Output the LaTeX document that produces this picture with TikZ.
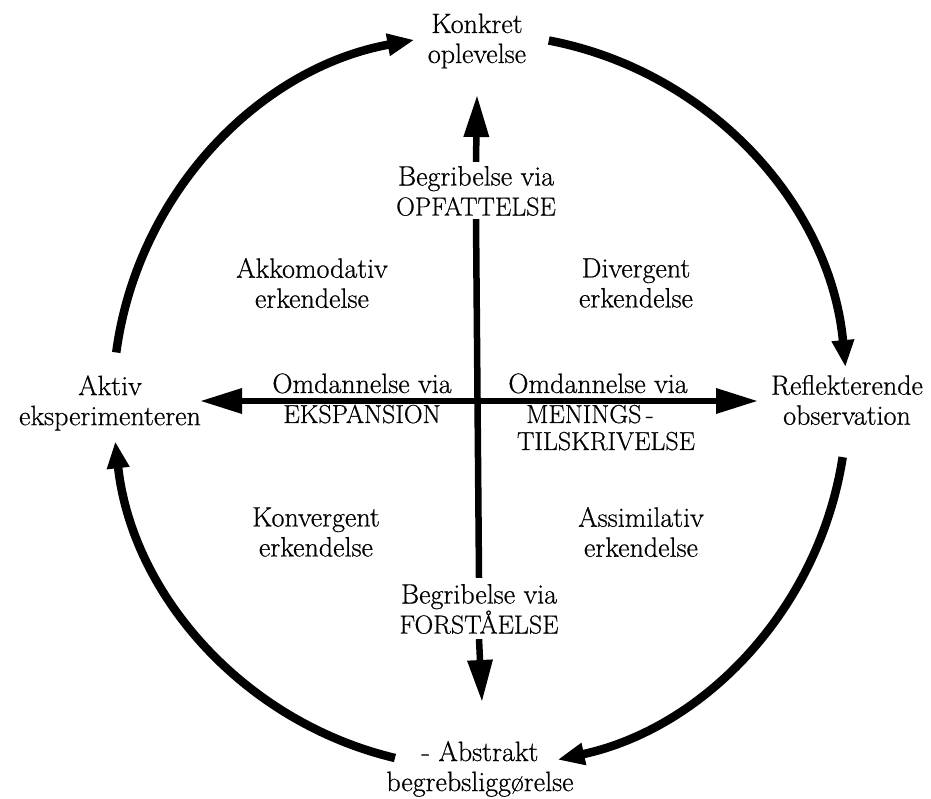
\documentclass[tikz,border=0pt]{standalone}
\usepackage{fontspec}
\setmainfont{Latin Modern Roman}[FakeBold=0.6]
\usetikzlibrary{arrows.meta,calc}
\begin{document}
\begin{tikzpicture}[x=1pt,y=1pt,
  lbl/.style={align=center, font=\fontsize{28}{30}\selectfont, inner sep=0pt},
  ring/.style={line width=8.5pt, -{Triangle[length=27pt,width=21pt]}},
  axis/.style={line width=6.5pt},
  bigtip/.style={-{Triangle[length=42pt,width=24pt]}},
  bigtips/.style={{Triangle[length=42pt,width=24pt]}-{Triangle[length=42pt,width=24pt]}}
]
\newcommand{\capsz}{\fontsize{26}{30}\selectfont}
\useasboundingbox (0,0) rectangle (931,798);
\fill[white] (0,0) rectangle (931,798);

% stage nodes
\node[lbl] (konkret) at (477,757) {Konkret\\oplevelse};
\node[lbl] (aktiv) at (110,395) {Aktiv\\eksperimenteren};
\node[lbl] (refl) at (847,398) {Reflekterende\\observation};
\node[lbl] (abstr) at (480,29) {- Abstrakt\\begrebsliggørelse};

% quadrant labels
\node[lbl] (akk) at (312,515) {Akkomodativ\\erkendelse};
\node[lbl] (div) at (636,515) {Divergent\\erkendelse};
\node[lbl] (konv) at (316,266) {Konvergent\\erkendelse};
\node[lbl] (assim) at (641,266) {Assimilativ\\erkendelse};

% axis labels
\node[lbl] (opf) at (476,607) {Begribelse via\\{\capsz OPFATTELSE}};
\node[lbl] (fors) at (479,189) {Begribelse via\\{\capsz FORSTÅELSE}};
\node[lbl, anchor=base] (omL) at (362,405) {Omdannelse via};
\node[lbl, anchor=base, font=\capsz] (eks) at (362,375) {EKSPANSION};
\node[lbl, anchor=base] (omR) at (598,405) {Omdannelse via};
\node[lbl, anchor=base, font=\capsz] (men) at (590,375) {MENINGS\,-};
\node[lbl, anchor=base, font=\capsz] (tils) at (606,348) {TILSKRIVELSE};

% cross
\coordinate (ttip) at (477,703);
\coordinate (btip) at (482,96);
\coordinate (ltip) at (200,397);
\coordinate (rtip) at (758,397);
\draw[axis,bigtip] ([yshift=4pt]opf.north) -- (ttip);
\draw[axis] ([yshift=-3pt]opf.south) -- ([yshift=6pt]fors.north);
\draw[axis,bigtip] ([yshift=-5pt]fors.south) -- (btip);
\draw[axis,bigtips] (ltip) -- (rtip);

% ring
\coordinate (C) at (480,397);
\coordinate (a1) at ($(C)+(172.4:367)$);
\coordinate (a2) at ($(C)+(79.2:367)$);
\coordinate (a3) at ($(C)+(-8.8:367)$);
\coordinate (a4) at ($(C)+(-103.4:367)$);
\draw[ring] (a1) arc[start angle=172.4, end angle=100.3, radius=367];
\draw[ring] (a2) arc[start angle=79.2, end angle=5.3, radius=367];
\draw[ring] (a3) arc[start angle=-8.8, end angle=-77.8, radius=367];
\draw[ring] (a4) arc[start angle=-103.4, end angle=-173.7, radius=367];
\end{tikzpicture}
\end{document}
